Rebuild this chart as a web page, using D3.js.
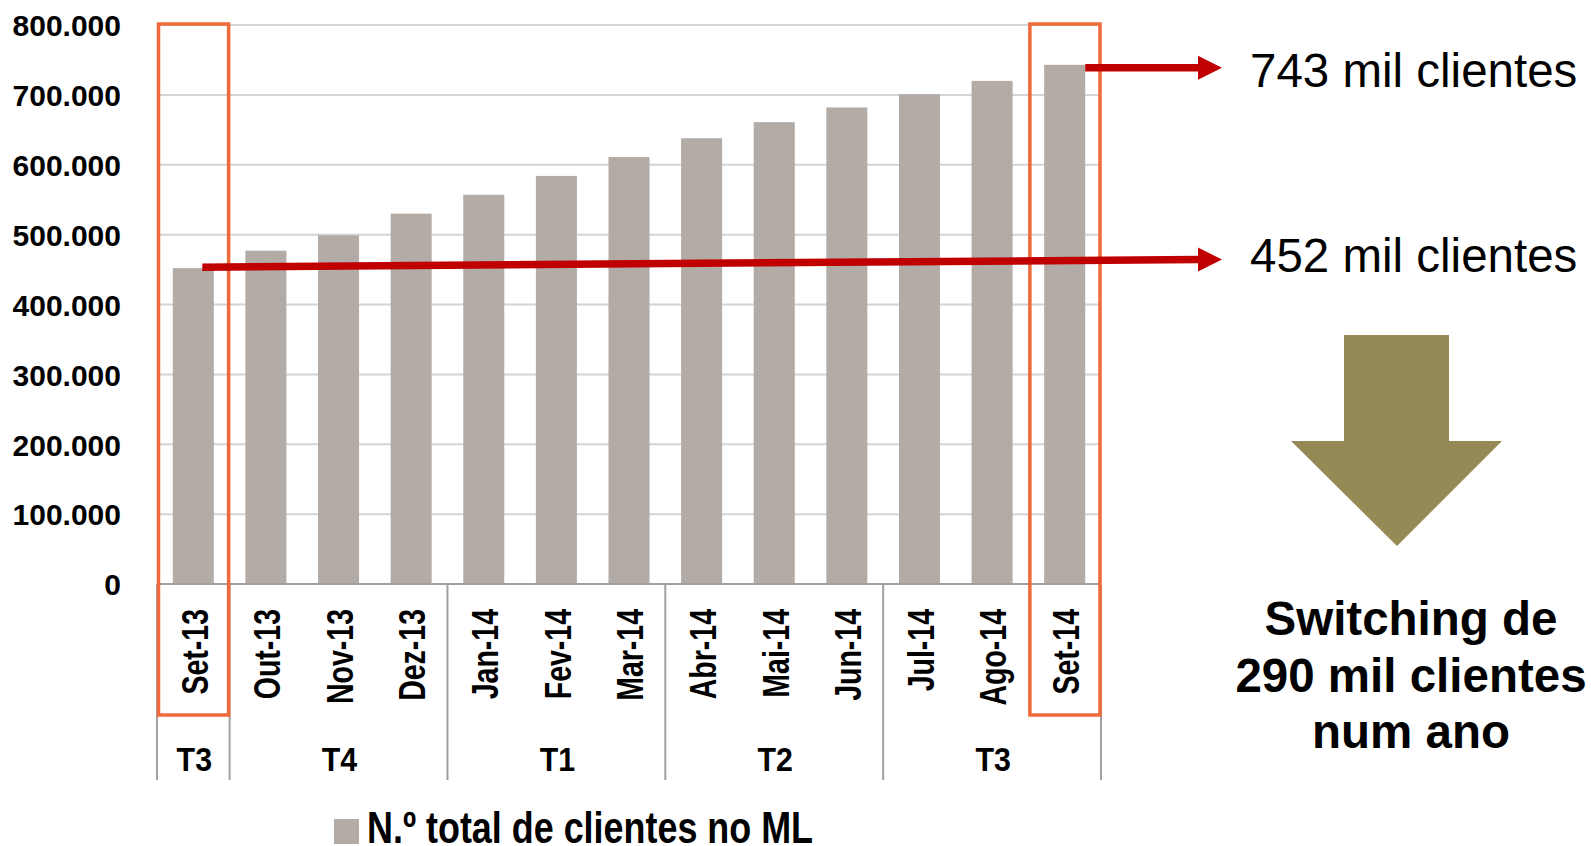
<!DOCTYPE html>
<html>
<head>
<meta charset="utf-8">
<script src="https://cdn.jsdelivr.net/npm/d3@7"></script>
<style>
  body { margin: 0; background: #fff; }
  svg { display: block; font-family: 'Liberation Sans', Arial, sans-serif; }
</style>
</head>
<body>
<script>
const months = ['Set-13', 'Out-13', 'Nov-13', 'Dez-13', 'Jan-14', 'Fev-14', 'Mar-14',
  'Abr-14', 'Mai-14', 'Jun-14', 'Jul-14', 'Ago-14', 'Set-14'];
const clients = [452000, 477000, 499000, 530000, 557000, 584000, 611000,
  638000, 661000, 682000, 701000, 720000, 743000];
const quarterLabels = ['T3', 'T4', 'T1', 'T2', 'T3'];
const quarterSizes = [1, 3, 3, 3, 3];
const yTicks = [0, 100000, 200000, 300000, 400000, 500000, 600000, 700000, 800000];
const highlighted = ['Set-13', 'Set-14'];
const legendLabel = 'N.º total de clientes no ML';
const notes = ['743 mil clientes', '452 mil clientes'];
const summary = ['Switching de', '290 mil clientes', 'num ano'];

const width = 1591;
const height = 846;
const plotLeft = 157;
const plotRight = 1101;
const plotTop = 25;
const plotBottom = 584;
const barColor = '#b3aba6';
const boxColor = '#ee6a3a';
const red = '#c00000';

const svg = d3.select('body').append('svg')
  .attr('width', width)
  .attr('height', height);

let x;
let y;

// "800.000" style numbers
const ptLocale = d3.formatLocale({ decimal: ',', thousands: '.', grouping: [3], currency: ['€', ''] });
const fmt = ptLocale.format(',');

function generateScales() {
  x = d3.scaleBand()
    .domain(months)
    .range([plotLeft, plotRight])
    .paddingInner(0.435)
    .paddingOuter(0.2175);
  y = d3.scaleLinear()
    .domain([0, 800000])
    .range([plotBottom, plotTop]);
}

function edge(m) {
  return x(m) - x.step() * x.paddingInner() / 2;
}

function drawGrid() {
  svg.append('g')
    .selectAll('line')
    .data(yTicks.filter((d) => d > 0))
    .enter()
    .append('line')
    .attr('x1', plotLeft)
    .attr('x2', plotRight)
    .attr('y1', (d) => y(d))
    .attr('y2', (d) => y(d))
    .attr('stroke', '#d4d4d4')
    .attr('stroke-width', 2);
}

function drawBars() {
  svg.append('g')
    .selectAll('rect')
    .data(months)
    .enter()
    .append('rect')
    .attr('x', (d) => x(d))
    .attr('y', (d, i) => y(clients[i]))
    .attr('width', x.bandwidth())
    .attr('height', (d, i) => plotBottom - y(clients[i]))
    .attr('fill', barColor);
}

function drawAxes() {
  const yAxis = d3.axisLeft(y).tickValues(yTicks).tickSize(0).tickPadding(36).tickFormat(fmt);
  const gy = svg.append('g').attr('transform', `translate(${plotLeft},0)`).call(yAxis);
  gy.select('.domain').remove();
  gy.selectAll('text')
    .attr('font-size', 30)
    .attr('font-weight', 'bold')
    .attr('font-family', 'Liberation Sans, Arial, sans-serif')
    .attr('fill', '#000')
    .attr('dy', '0.36em');

  const xAxis = d3.axisBottom(x).tickSize(0);
  const gx = svg.append('g').attr('transform', `translate(0,${plotBottom})`).call(xAxis);
  gx.select('.domain').attr('stroke', '#a0a0a0').attr('stroke-width', 2)
    .attr('d', `M${plotLeft},0H${plotRight}`);
  gx.selectAll('text')
    .attr('font-size', 37)
    .attr('font-weight', 'bold')
    .attr('font-family', 'Liberation Sans, Arial, sans-serif')
    .attr('fill', '#000')
    .attr('text-anchor', 'end')
    .attr('x', 0)
    .attr('y', 0)
    .attr('dy', '0.36em')
    .attr('transform', 'translate(1,25) rotate(-90) scale(0.77,1)');

  // quarter groups
  let start = 0;
  const groups = quarterLabels.map((q, i) => {
    const g = { label: q, first: months[start], last: months[start + quarterSizes[i] - 1] };
    start += quarterSizes[i];
    return g;
  });
  const seps = groups.map((g) => edge(g.first)).concat([edge(months[months.length - 1]) + x.step()]);

  svg.append('g')
    .selectAll('line')
    .data(seps)
    .enter()
    .append('line')
    .attr('x1', (d) => d)
    .attr('x2', (d) => d)
    .attr('y1', plotBottom)
    .attr('y2', 780)
    .attr('stroke', '#a0a0a0')
    .attr('stroke-width', 2);

  svg.append('g')
    .selectAll('text')
    .data(groups)
    .enter()
    .append('text')
    .attr('transform', (g) => `translate(${(edge(g.first) + edge(g.last) + x.step()) / 2 + 1},771) scale(0.92,1)`)
    .attr('text-anchor', 'middle')
    .attr('font-size', 33)
    .attr('font-weight', 'bold')
    .text((g) => g.label);
}

function drawHighlights() {
  svg.append('g')
    .selectAll('rect')
    .data(highlighted)
    .enter()
    .append('rect')
    .attr('x', (d) => edge(d) + 1.5)
    .attr('y', 24)
    .attr('width', x.step() - 2.5)
    .attr('height', 715 - 24)
    .attr('fill', 'none')
    .attr('stroke', boxColor)
    .attr('stroke-width', 3.5);
}

function arrow(x1, y1, x2, y2) {
  svg.append('line')
    .attr('x1', x1).attr('y1', y1)
    .attr('x2', x2 - 24).attr('y2', y2)
    .attr('stroke', red)
    .attr('stroke-width', 7.5);
  svg.append('path')
    .attr('d', `M${x2 - 24},${y2 - 12}L${x2},${y2}L${x2 - 24},${y2 + 12}Z`)
    .attr('fill', red);
}

function drawNotes() {
  const last = months[months.length - 1];
  const first = months[0];
  arrow(x(last) + x.bandwidth(), y(clients[clients.length - 1]) + 3, 1222, y(clients[clients.length - 1]) + 3);
  arrow(x(first) + x.bandwidth() / 2 + 9, y(clients[0]) - 1, 1222, 259.5);

  svg.append('text').attr('x', 1250).attr('y', 86.5)
    .attr('font-size', 47.5).attr('fill', '#000').text(notes[0]);
  svg.append('text').attr('x', 1250).attr('y', 271.5)
    .attr('font-size', 47.5).attr('fill', '#000').text(notes[1]);

  // big down arrow
  svg.append('path')
    .attr('d', 'M1344,335H1449V441H1502L1397,546L1291,441H1344Z')
    .attr('fill', '#958a55');

  svg.append('g')
    .selectAll('text')
    .data(summary)
    .enter()
    .append('text')
    .attr('x', 1411)
    .attr('y', (d, i) => 635 + i * 56.5)
    .attr('text-anchor', 'middle')
    .attr('font-size', 47.5)
    .attr('font-weight', 'bold')
    .text((d) => d);
}

function drawLegend() {
  svg.append('rect')
    .attr('x', 334).attr('y', 819)
    .attr('width', 25).attr('height', 25)
    .attr('fill', barColor);
  svg.append('text')
    .attr('x', 367).attr('y', 843)
    .attr('font-size', 45)
    .attr('font-weight', 'bold')
    .attr('textLength', 446)
    .attr('lengthAdjust', 'spacingAndGlyphs')
    .text(legendLabel);
}

generateScales();
drawGrid();
drawBars();
drawAxes();
drawHighlights();
drawNotes();
drawLegend();
</script>
</body>
</html>
